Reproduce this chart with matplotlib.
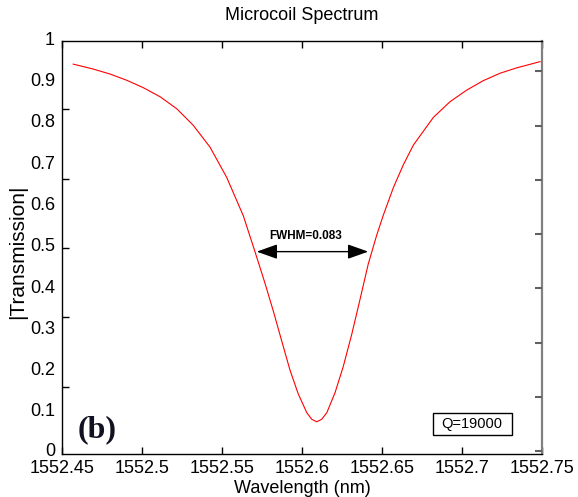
import matplotlib
matplotlib.use("Agg")
import matplotlib.pyplot as plt
import matplotlib.patches as mpatches
import matplotlib.transforms as mtransforms

plt.rcParams['font.family'] = ['Liberation Sans', 'DejaVu Sans']

# ---- data ----
wavelength = [1552.457, 1552.4696, 1552.480, 1552.4904, 1552.5008, 1552.5113,
              1552.5217, 1552.532, 1552.5425, 1552.5529, 1552.5633, 1552.5706,
              1552.5769, 1552.582, 1552.5873, 1552.5925, 1552.5977, 1552.603,
              1552.6061, 1552.6092, 1552.6123, 1552.6155, 1552.6206, 1552.6258,
              1552.6311, 1552.6363, 1552.6414, 1552.6467, 1552.6508, 1552.6571,
              1552.6633, 1552.6696, 1552.6821, 1552.6925, 1552.7029, 1552.7133,
              1552.7238, 1552.7342, 1552.7488]
transmission = [0.944, 0.932, 0.920, 0.905, 0.887, 0.865,
                0.836, 0.796, 0.743, 0.670, 0.577, 0.490,
                0.413, 0.347, 0.274, 0.203, 0.145, 0.100,
                0.084, 0.078, 0.084, 0.100, 0.148, 0.212,
                0.290, 0.375, 0.460, 0.530, 0.578, 0.645,
                0.700, 0.748, 0.815, 0.853, 0.881, 0.904,
                0.922, 0.935, 0.950]

x_ticks = [1552.45, 1552.5, 1552.55, 1552.6, 1552.65, 1552.7, 1552.75]
x_tick_labels = ['1552.45', '1552.5', '1552.55', '1552.6', '1552.65', '1552.7', '1552.75']
y_ticks = [0, 0.1, 0.2, 0.3, 0.4, 0.5, 0.6, 0.7, 0.8, 0.9, 1]
y_tick_labels = ['0', '0.1', '0.2', '0.3', '0.4', '0.5', '0.6', '0.7', '0.8', '0.9', '1']
left_tick_marks = [0.162, 0.332, 0.499, 0.666, 0.835]
right_tick_marks = [0.007, 0.138, 0.269, 0.402, 0.533, 0.663, 0.794, 0.927]

fwhm_left, fwhm_right, fwhm_level = 1552.5717, 1552.6414, 0.490
fwhm_text = 'FWHM=0.083'
q_text = 'Q=19000'
panel_label = '(b)'

# ---- figure ----
fig = plt.figure(figsize=(5.78, 4.97), dpi=100)
ax = fig.add_axes([62/578, 1 - 454/497, 480/578, 413/497])

ax.plot(wavelength, transmission, color='#ff0000', lw=0.8)

ax.set_xlim(1552.45, 1552.75)
ax.set_ylim(0, 1)
ax.set_xticks(x_ticks)
ax.set_xticklabels(x_tick_labels, fontsize=13)
ax.set_yticks(y_ticks)
ax.set_yticklabels(y_tick_labels, fontsize=13)
ax.set_yticks(left_tick_marks, minor=True)

ax.tick_params(axis='x', which='major', direction='in', length=5, width=1,
               top=True, bottom=True, pad=4.5)
ax.tick_params(axis='y', which='major', length=0, pad=5)
ax.tick_params(axis='y', which='minor', direction='in', length=5, width=1,
               left=True, right=False)

# nudge y tick labels up a little, as in the reference (after tick_params)
for i, lab in enumerate(ax.get_yticklabels()):
    up = 3 if i == 0 else 2
    shift = mtransforms.ScaledTranslation(0, up/72, fig.dpi_scale_trans)
    lab.set_transform(lab.get_transform() + shift)

for s in ['left', 'bottom', 'top']:
    ax.spines[s].set_linewidth(1)
    ax.spines[s].set_color('black')
ax.spines['right'].set_color('#808080')
ax.spines['right'].set_linewidth(1.6)

tw = ax.twinx()
tw.set_ylim(0, 1)
tw.set_yticks(right_tick_marks)
tw.tick_params(axis='y', direction='in', length=5, width=1.5, color='#606060',
               labelright=False)
for s in tw.spines.values():
    s.set_visible(False)

ax.set_title('Microcoil Spectrum', fontsize=13, pad=15)
ax.set_xlabel('Wavelength (nm)', fontsize=13)
ax.xaxis.set_label_coords(0.5, -0.062)
ax.set_ylabel('|Transmission|', fontsize=15)
ax.yaxis.set_label_coords(-0.072, 0.489)

# FWHM arrow
ax.annotate('', xy=(fwhm_right, fwhm_level), xytext=(fwhm_left, fwhm_level),
            arrowprops=dict(arrowstyle='<|-|>,head_length=0.9,head_width=0.32',
                            color='black', lw=1, shrinkA=0, shrinkB=0,
                            mutation_scale=14))
ax.text(0.508, 0.527, fwhm_text, transform=ax.transAxes, ha='center', va='center',
        fontsize=8.5, fontweight='bold')

# panel label
ax.text(0.073, 0.058, panel_label, transform=ax.transAxes, ha='center', va='center',
        fontsize=23, fontweight='bold', family='Liberation Serif', color='#111122')

# Q box
ax.add_patch(mpatches.Rectangle((0.772, 0.046), 0.1646, 0.054, transform=ax.transAxes,
                                facecolor='white', edgecolor='black', lw=1, zorder=3))
ax.text(0.772 + 0.1646/2, 0.073, q_text, transform=ax.transAxes, ha='center',
        va='center', fontsize=10.5, zorder=4)

fig.savefig('out.png', dpi=100)
